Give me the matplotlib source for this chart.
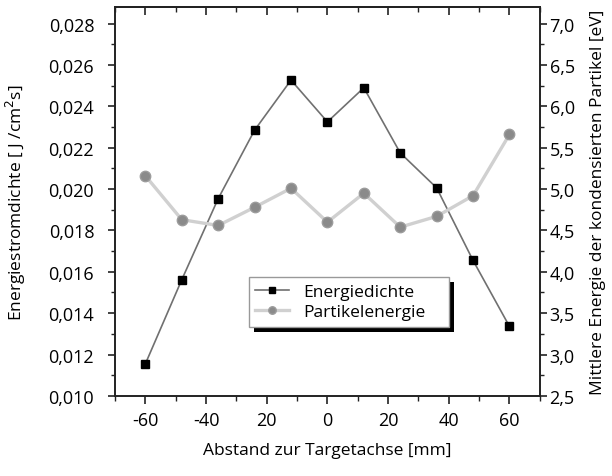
import matplotlib
matplotlib.use("Agg")
import matplotlib.pyplot as plt
from matplotlib.ticker import MultipleLocator, NullFormatter
import matplotlib.patheffects as pe

plt.rcParams['font.family'] = ['Open Sans', 'DejaVu Sans']

# Measurement positions [mm]
abstand = [-60, -48, -36, -24, -12, 0, 12, 24, 36, 48, 60]
# Energy flux density [J/cm^2 s]
energiedichte = [0.01155, 0.01562, 0.01954, 0.02285, 0.02527, 0.02325,
                 0.0249, 0.02175, 0.02006, 0.01655, 0.01336]
# Mean energy of condensed particles [eV]
partikelenergie = [5.16, 4.63, 4.56, 4.78, 5.01, 4.60, 4.95, 4.54, 4.67, 4.92, 5.66]

x_ticks = [-60, -40, -20, 0, 20, 40, 60]
x_ticklabels = ["-60", "-40", "20", "0", "20", "40", "60"]
left_ticks = [0.010, 0.012, 0.014, 0.016, 0.018, 0.020, 0.022, 0.024, 0.026, 0.028]
left_ticklabels = ["0,010", "0,012", "0,014", "0,016", "0,018", "0,020",
                   "0,022", "0,024", "0,026", "0,028"]
right_ticks = [2.5, 3.0, 3.5, 4.0, 4.5, 5.0, 5.5, 6.0, 6.5, 7.0]
right_ticklabels = ["2,5", "3,0", "3,5", "4,0", "4,5", "5,0", "5,5", "6,0", "6,5", "7,0"]

fig = plt.figure(figsize=(6.12, 4.77), dpi=100)
ax = fig.add_axes([0.188, 0.168, 0.694, 0.815])
ax2 = ax.twinx()

spine_col = "#222222"
for a in (ax, ax2):
    for s in a.spines.values():
        s.set_color(spine_col)
        s.set_linewidth(1.2)

# Energy density (left axis)
l1, = ax.plot(abstand, energiedichte, color="#707070", lw=1.2,
              marker="s", ms=5.2, mfc="black", mec="black", zorder=3,
              label="Energiedichte")
# Particle energy (right axis)
l2, = ax2.plot(abstand, partikelenergie, color="#d0d0d0", lw=2.4,
               marker="o", ms=7.5, mfc="#8a8a8a", mec="#9c9c9c", mew=1.0,
               zorder=3, label="Partikelenergie")

ax.set_xlim(-70, 70)
ax.set_ylim(0.010, 0.0288)
ax2.set_ylim(2.5, 7.2)

ax.set_xticks(x_ticks)
ax.set_xticklabels(x_ticklabels)
ax.xaxis.set_minor_locator(MultipleLocator(10))
ax.set_yticks(left_ticks)
ax.set_yticklabels(left_ticklabels)
ax.yaxis.set_minor_locator(MultipleLocator(0.001))
ax2.set_yticks(right_ticks)
ax2.set_yticklabels(right_ticklabels)
ax2.yaxis.set_minor_locator(MultipleLocator(0.25))

ax.tick_params(axis="x", which="major", direction="out", length=6, width=1.2,
               labelsize=13, pad=5, color=spine_col)
ax.tick_params(axis="x", which="minor", direction="out", length=3.5, width=1.0,
               color=spine_col)
ax.tick_params(axis="y", which="major", direction="out", length=5, width=1.2,
               labelsize=13, pad=10, color=spine_col)
ax.tick_params(axis="y", which="minor", direction="out", length=3, width=1.0,
               color=spine_col)
ax2.tick_params(axis="y", which="major", direction="out", length=5, width=1.2,
                labelsize=13, pad=2, color=spine_col)
ax2.tick_params(axis="y", which="minor", direction="out", length=3, width=1.0,
                color=spine_col)

# inward ticks along the top edge
top = ax.secondary_xaxis("top")
top.set_xticks(x_ticks)
top.xaxis.set_minor_locator(MultipleLocator(10))
top.xaxis.set_major_formatter(NullFormatter())
top.tick_params(which="major", direction="in", length=6, width=1.2, color=spine_col)
top.tick_params(which="minor", direction="in", length=3.5, width=1.0, color=spine_col)
top.spines["top"].set_color(spine_col)
top.spines["top"].set_linewidth(1.2)

ax.set_xlabel("Abstand zur Targetachse [mm]", fontsize=12.5)
ax.xaxis.set_label_coords(0.5, -0.118)
ax.set_ylabel("Energiestromdichte [ J /cm$^2$s]", fontsize=12.5)
ax.yaxis.set_label_coords(-0.205, 0.5)
ax2.set_ylabel("Mittlere Energie der kondensierten Partikel [eV]", fontsize=12.5)
ax2.yaxis.set_label_coords(1.118, 0.5)

leg_w = 0.4706
leg_h = 0.131
leg = ax.legend(handles=[l1, l2], loc="upper left", mode="expand",
                bbox_to_anchor=(0.315, 0.305 - leg_h, leg_w, leg_h),
                frameon=True, fancybox=False, shadow=False, framealpha=1.0,
                fontsize=12.5, handlelength=1.95, handletextpad=0.8,
                borderpad=0.38, labelspacing=0.22, borderaxespad=0,
                markerscale=0.72)
frame = leg.get_frame()
frame.set_facecolor("white")
frame.set_edgecolor("#999999")
frame.set_linewidth(1.0)
frame.set_path_effects([pe.SimplePatchShadow(offset=(3.6, -3.6),
                                             shadow_rgbFace="black", alpha=1.0),
                        pe.Normal()])
leg.set_zorder(5)

fig.savefig("out.png", dpi=100)
